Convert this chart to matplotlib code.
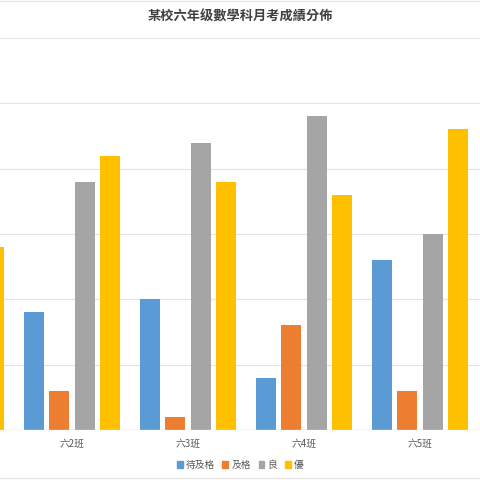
import numpy as np
import matplotlib.pyplot as plt
from matplotlib.patches import Patch
from matplotlib.lines import Line2D

plt.rcParams['font.family'] = ['Noto Sans CJK TC', 'DejaVu Sans']

# classes (六1班 is mostly cut off on the left)
classes = ['六1班', '六2班', '六3班', '六4班', '六5班']
series = ['待及格', '及格', '良', '優']
colors = ['#5B9BD5', '#ED7D31', '#A5A5A5', '#FFC000']

fail = [10, 9, 10, 4, 13]
passed = [4, 3, 1, 8, 3]
good = [16, 19, 22, 24, 15]
excellent = [14, 21, 19, 18, 23]
values = [fail, passed, good, excellent]

fig = plt.figure(figsize=(4.8, 4.8), dpi=100)
ax = fig.add_axes([0, 50 / 480, 1, 392 / 480])

x = np.arange(len(classes))
width = 0.172
step = 0.218
for k, (vals, col) in enumerate(zip(values, colors)):
    ax.bar(x + (k - 1.5) * step, vals, width, color=col, zorder=3)

ax.set_xticks(x)
ax.set_xticklabels(classes)
ax.set_yticks(range(0, 31, 5))
# the chart is cropped: first group sits mostly off the left edge
ax.set_xlim(0.379, 4.517)
ax.set_ylim(0, 30)
ax.grid(axis='y', color='#e3e3e3', linewidth=0.8, zorder=0)
for s in ax.spines.values():
    s.set_visible(False)
ax.axhline(0, color='#d9d9d9', linewidth=1, zorder=4)
ax.tick_params(axis='y', left=False, labelleft=False)
ax.tick_params(axis='x', bottom=False, labelsize=7, labelcolor='#595959', pad=3)

fig.text(0.5, 1 - 17 / 480, '某校六年级數學科月考成績分佈', ha='center', va='center',
         fontsize=9.5, fontweight='bold', color='#404040')

handles = [Patch(color=c, label=s) for c, s in zip(colors, series)]
fig.legend(handles=handles, loc='center', bbox_to_anchor=(0.5, 1 - 465 / 480), ncol=4,
           frameon=False, fontsize=7, handlelength=0.6, handleheight=0.6,
           handletextpad=0.3, columnspacing=0.8, labelcolor='#595959')

# faint frame lines at top and bottom of the chart area
for yy in (1 - 1 / 480, 2 / 480):
    fig.add_artist(Line2D([0, 1], [yy, yy], color='#e6e6e6', linewidth=1))

fig.savefig('out.png', dpi=100)
